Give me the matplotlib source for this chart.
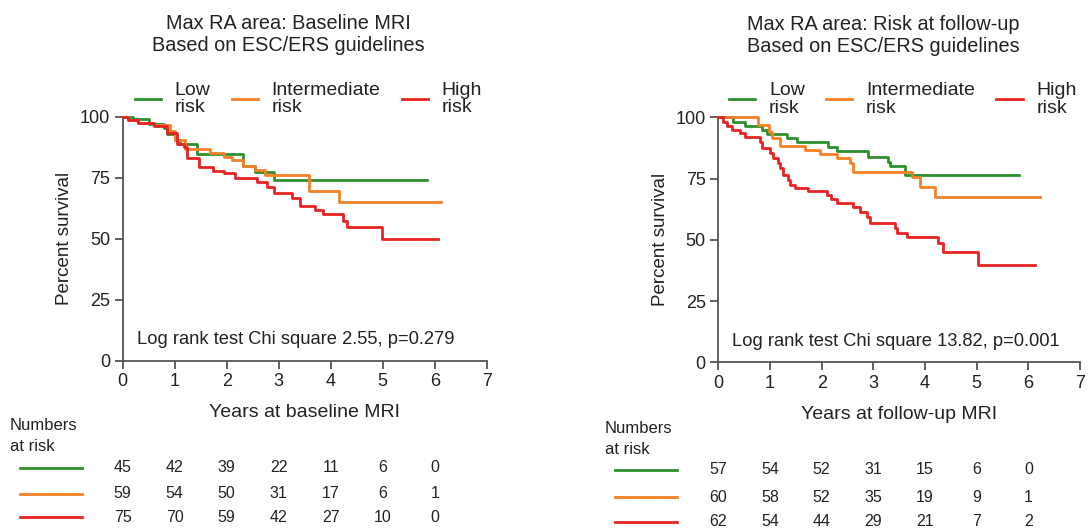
import matplotlib
matplotlib.use("Agg")
import matplotlib.pyplot as plt
import matplotlib.transforms as mtransforms

plt.rcParams['font.family'] = ['Liberation Sans', 'DejaVu Sans']

groups = ["Low\nrisk", "Intermediate\nrisk", "High\nrisk"]
colors = ["#2e8f2e", "#f58025", "#e82222"]

# Left panel: baseline MRI (time in years, percent survival)
base_low_t = [0, 0.2, 0.5, 0.8, 0.85, 1.0, 1.1, 1.42, 2.32, 2.55, 2.9, 5.85]
base_low_s = [100, 99, 97, 95.2, 93, 90.5, 89, 84.7, 79.8, 77.5, 74.2, 74.2]
base_int_t = [0, 0.1, 0.3, 0.6, 0.9, 1.0, 1.2, 1.68, 1.94, 2.1, 2.32, 2.55, 2.74, 3.59, 4.15, 6.13]
base_int_s = [100, 98.5, 97.5, 96.5, 94, 90.5, 86.6, 85, 83.6, 82.2, 80, 78, 76, 69.7, 65, 65]
base_high_t = [0, 0.1, 0.3, 0.6, 0.85, 1.04, 1.17, 1.23, 1.46, 1.74, 1.94, 2.16, 2.58, 2.77, 2.9, 3.25,
               3.41, 3.7, 3.86, 4.24, 4.31, 4.98, 6.07]
base_high_s = [100, 98.5, 97.5, 96, 93.5, 89, 87.7, 83, 79.5, 77.7, 76.8, 74.7, 73.4, 71.3, 68.6, 66.8,
               63.4, 61.7, 60, 57.4, 55, 49.7, 49.7]

# Right panel: follow-up MRI
fu_low_t = [0, 0.29, 0.52, 0.84, 0.94, 1.32, 1.52, 2.13, 2.29, 2.9, 3.29, 3.32, 3.61, 5.81]
fu_low_s = [100, 98.2, 96.5, 94.8, 93, 91.4, 89.8, 88, 86.4, 84, 81.9, 80.1, 76.5, 76.5]
fu_int_t = [0, 0.77, 0.99, 1.03, 1.19, 1.68, 1.97, 2.29, 2.55, 2.61, 3.74, 3.9, 4.19, 6.23]
fu_int_s = [100, 96.9, 94, 91.4, 88.4, 86.7, 85, 83.3, 81.5, 77.8, 75.5, 71.7, 67.6, 67.6]
fu_high_t = [0, 0.1, 0.16, 0.26, 0.42, 0.52, 0.8, 0.84, 1.0, 1.06, 1.16, 1.19, 1.26, 1.35, 1.39, 1.48,
             1.74, 2.1, 2.19, 2.29, 2.61, 2.74, 2.87, 2.94, 3.42, 3.45, 3.65, 4.26, 4.34, 4.35, 5.03, 6.13]
fu_high_s = [100, 98.2, 96.5, 94.8, 93.5, 92, 90, 87.3, 85.3, 83.3, 81.2, 79.2, 76.5, 74.5, 72.4, 71,
             70, 68.3, 66.6, 64.9, 63.3, 61.5, 59.5, 57, 54.7, 52.9, 51, 48.6, 46.5, 45, 39.7, 39.7]

risk_times = [0, 1, 2, 3, 4, 5, 6]
base_at_risk = [[45, 42, 39, 22, 11, 6, 0],
                [59, 54, 50, 31, 17, 6, 1],
                [75, 70, 59, 42, 27, 10, 0]]
fu_at_risk = [[57, 54, 52, 31, 15, 6, 0],
              [60, 58, 52, 35, 19, 9, 1],
              [62, 54, 44, 29, 21, 7, 2]]

titles = ["Max RA area: Baseline MRI\nBased on ESC/ERS guidelines",
          "Max RA area: Risk at follow-up\nBased on ESC/ERS guidelines"]
xlabels = ["Years at baseline MRI", "Years at follow-up MRI"]
stats = ["Log rank test Chi square 2.55, p=0.279",
         "Log rank test Chi square 13.82, p=0.001"]
yticks = [0, 25, 50, 75, 100]
xticks = [0, 1, 2, 3, 4, 5, 6, 7]

W, H = 1091, 529
fig = plt.figure(figsize=(W / 100, H / 100), dpi=100)

def fx(px):
    return px / W

def fy(py):
    return 1 - py / H

panels = [
    dict(box=(122.7, 116.7, 486.7, 360.7),
         curves=[(base_low_t, base_low_s), (base_int_t, base_int_s), (base_high_t, base_high_s)],
         at_risk=base_at_risk, nr_label=(10, 436), row_y=[468, 494, 517], seg=(20, 82),
         stat_x=0.475),
    dict(box=(718.3, 117.3, 1080.0, 362.3),
         curves=[(fu_low_t, fu_low_s), (fu_int_t, fu_int_s), (fu_high_t, fu_high_s)],
         at_risk=fu_at_risk, nr_label=(605, 439), row_y=[470, 497, 522], seg=(615, 677),
         stat_x=0.49),
]

axis_col = "#555555"
for i, p in enumerate(panels):
    x0, y0, x1, y1 = p['box']
    ax = fig.add_axes([fx(x0), fy(y1), fx(x1 - x0), (y1 - y0) / H])
    for (t, s), c, g in zip(p['curves'], colors, groups):
        ax.step(t, s, where='post', color=c, lw=2.0, label=g, clip_on=False, zorder=3)
    ax.set_xlim(0, 7)
    ax.set_ylim(0, 100)
    ax.set_xticks(xticks)
    ax.set_yticks(yticks)
    for side in ['top', 'right']:
        ax.spines[side].set_visible(False)
    for side in ['left', 'bottom']:
        ax.spines[side].set_color(axis_col)
        ax.spines[side].set_linewidth(1.3)
    ax.tick_params(direction='out', length=6, width=1.3, color=axis_col,
                   labelsize=13, labelcolor='#222222', pad=3)
    ax.set_ylabel("Percent survival", fontsize=13.5, color='#222222', labelpad=5)
    ax.set_xlabel(xlabels[i], fontsize=14, color='#222222', labelpad=10)
    ax.text(p['stat_x'], 0.085, stats[i], transform=ax.transAxes, ha='center', va='center',
            fontsize=13.2, color='#222222')
    ax.set_title(titles[i], fontsize=14.3, color='#222222', pad=47, linespacing=1.2, x=0.455)
    leg = ax.legend(loc='lower center', bbox_to_anchor=(0.51, 0.97), ncol=3, frameon=False,
                    fontsize=14, handlelength=1.35, handletextpad=0.7, columnspacing=1.1,
                    labelspacing=0.2, borderaxespad=0.0)
    for txt in leg.get_texts():
        txt.set_color('#222222')
        txt.set_linespacing(1.05)

    # Numbers at risk
    fig.text(fx(p['nr_label'][0]), fy(p['nr_label'][1]), "Numbers\nat risk", ha='left', va='center',
             fontsize=12, color='#222222', linespacing=1.45)
    trans = mtransforms.blended_transform_factory(ax.transData, fig.transFigure)
    for r, (row, c) in enumerate(zip(p['at_risk'], colors)):
        yy = fy(p['row_y'][r])
        fig.add_artist(plt.Line2D([fx(p['seg'][0]), fx(p['seg'][1])], [yy, yy], color=c, lw=2.0,
                                  transform=fig.transFigure))
        for t, n in zip(risk_times, row):
            ax.text(t, yy, str(n), transform=trans, ha='center', va='center', fontsize=11.5,
                    color='#222222', clip_on=False)

fig.savefig("out.png", dpi=100)
